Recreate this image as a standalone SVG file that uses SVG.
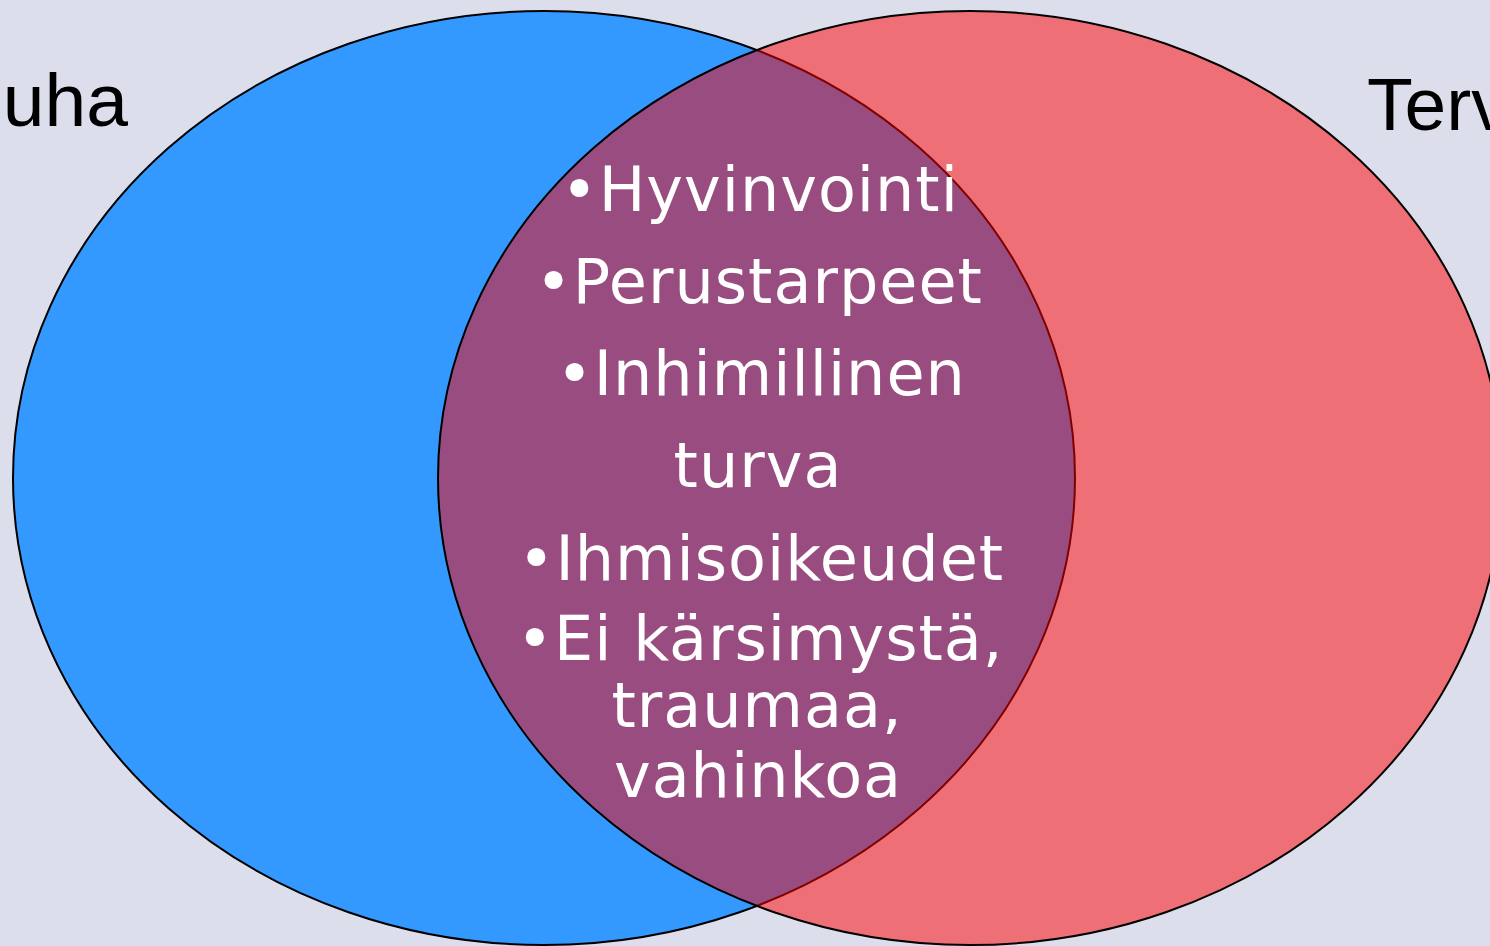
<svg xmlns="http://www.w3.org/2000/svg" width="1490" height="946" viewBox="0 0 1490 946">
<style>
.lbl{font-family:"Liberation Sans",Arial,sans-serif;font-size:75px;fill:#000}
.it{font-family:"DejaVu Sans",Verdana,sans-serif;font-size:62px;fill:#fff;text-anchor:middle;letter-spacing:1px}
</style>
<rect width="1490" height="946" fill="#DCDEEC"/>
<g id="set-left">
<ellipse cx="544" cy="478" rx="531" ry="467" fill="#3399FF" stroke="#000" stroke-width="2"/>
</g>
<g id="set-right">
<ellipse cx="970" cy="478" rx="532" ry="467" fill="#FF0000" fill-opacity="0.5" stroke="#000" stroke-width="2"/>
</g>
<g id="labels">
<text class="lbl" x="128" y="126" text-anchor="end">uha</text>
<text class="lbl" x="1367" y="130">Terv</text>
</g>
<g id="overlap-text">
<text class="it" x="760" y="211">•Hyvinvointi</text>
<text class="it" x="759" y="303">•Perustarpeet</text>
<text class="it" x="761" y="395">•Inhimillinen</text>
<text class="it" x="758" y="487">turva</text>
<text class="it" x="761" y="580">•Ihmisoikeudet</text>
<text class="it" x="760" y="660">•Ei kärsimystä,</text>
<text class="it" x="757" y="727">traumaa,</text>
<text class="it" x="758" y="797">vahinkoa</text>
</g>
</svg>
